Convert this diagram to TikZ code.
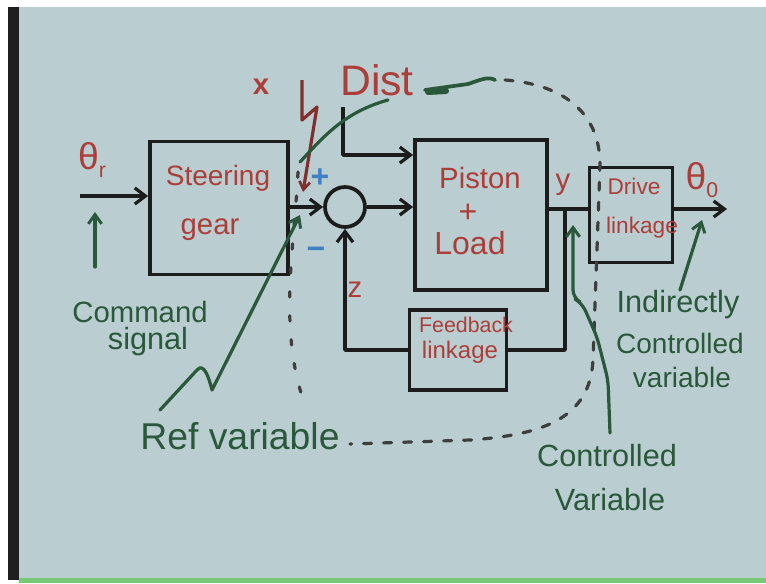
\documentclass[tikz,border=0pt]{standalone}
\usepackage{fontspec}
\setmainfont{Liberation Sans}
\usetikzlibrary{arrows.meta,calc}
\definecolor{bg}{RGB}{186,205,208}
\definecolor{ink}{RGB}{28,28,28}
\definecolor{redink}{RGB}{172,62,58}
\definecolor{greenink}{RGB}{42,88,58}
\definecolor{blueink}{RGB}{62,128,196}
\definecolor{stripgreen}{RGB}{120,200,120}
\newcommand{\fsz}[1]{\fontsize{#1}{#1}\selectfont}
\tikzset{
 blk/.style={draw=ink, line width=2.8pt, rectangle, inner sep=0pt},
 wire/.style={draw=ink, line width=2.6pt, line join=round},
 arr/.style={wire, -{Straight Barb[length=8pt,width=12pt,line width=2.4pt]}},
 rtxt/.style={text=redink, inner sep=0pt},
 gtxt/.style={text=greenink, inner sep=0pt, align=center},
 gline/.style={draw=greenink, line width=2.4pt, line cap=round, line join=round},
 garr/.style={gline, -{Straight Barb[length=7pt,width=10pt,line width=2.2pt]}},
 dashloop/.style={draw=ink!85, line width=2.4pt, dash pattern=on 6pt off 9pt, line cap=round},
 dotloop/.style={draw=ink!85, line width=2.4pt, dash pattern=on 4pt off 14pt, line cap=round},
}
\begin{document}
\begin{tikzpicture}[x=0.75pt,y=-0.75pt]
\useasboundingbox (0,0) rectangle (766,583);
\fill[white] (0,0) rectangle (766,583);
\fill[bg] (8,7) rectangle (766,578);
\fill[stripgreen] (19,578) rectangle (766,583);
\fill[black!88] (8,7) rectangle (19,580);

% blocks
\node[blk, minimum width=138*0.75pt, minimum height=133*0.75pt] (steer) at (219,208) {};
\node[blk, circle, minimum size=40*0.75pt] (sum) at (345,207) {};
\node[blk, minimum width=132*0.75pt, minimum height=150*0.75pt] (piston) at (481,215) {};
\node[blk, minimum width=83*0.75pt, minimum height=95*0.75pt] (drive) at (631,215) {};
\node[blk, minimum width=97*0.75pt, minimum height=80*0.75pt] (fb) at (458,350) {};

% block texts
\node[rtxt, font=\fsz{21}] (tsteer1) at (218,178) {Steering};
\node[rtxt, font=\fsz{22}] (tsteer2) at (210,230) {gear};
\node[rtxt, font=\fsz{22}] (tpist1) at (480,178) {Piston};
\node[rtxt, font=\fsz{24}] (tpist2) at (468,213) {+};
\node[rtxt, font=\fsz{24}] (tpist3) at (470,243) {Load};
\node[rtxt, font=\fsz{17}] (tdrive1) at (634,186) {Drive};
\node[rtxt, font=\fsz{17}] (tdrive2) at (642,228) {linkage};
\node[rtxt, font=\fsz{16}] (tfb1) at (466,325) {Feedback};
\node[rtxt, font=\fsz{18}] (tfb2) at (460,352) {linkage};

% signal labels
\node[rtxt, font=\fsz{28}] (thr) at (92,160) {θ\raisebox{-6pt}{\fsz{16}r}};
\node[rtxt, font=\fsz{28}] (tho) at (702,180) {θ\raisebox{-6pt}{\fsz{16}0}};
\node[rtxt, font=\fsz{22}\bfseries] (tx) at (261,87) {x};
\node[rtxt, font=\fsz{32}] (tdist) at (377,80) {Dist};
\node[rtxt, font=\fsz{22}] (ty) at (563,185) {y};
\node[rtxt, font=\fsz{22}] (tz) at (355,290) {z};
\node[text=blueink, inner sep=0pt, font=\fsz{24}\bfseries] (tplus) at (320,178) {+};
\node[text=blueink, inner sep=0pt, font=\fsz{24}\bfseries] (tminus) at (316,253) {−};

% connectors
\coordinate (in) at (80,196);
\draw[arr] (in) -- (steer.west |- in);
\draw[arr] (steer.east |- sum.west) -- (sum.west);
\draw[arr] (sum.east) -- (piston.west |- sum.east);
\coordinate (dtop) at (343,107);
\coordinate (dk) at (343,155);
\draw[arr] (dtop) -- (dk) -- (piston.west |- dk);
\coordinate (yj) at (565,209);
\draw[wire] (piston.east |- yj) -- (drive.west |- yj);
\coordinate (out) at (727,209);
\draw[arr] (drive.east |- out) -- (out);
\draw[wire] (yj) |- (fb.east);
\draw[arr] (fb.west) -| (sum.south);

% disturbance zigzag
\coordinate (zz) at (303,192);
\draw[draw=redink!75!black, line width=2.4pt, line join=round, -{Straight Barb[length=6pt,width=8pt,line width=2pt]}]
  (302,80) -- (302,120) -- (317,107) -- (zz);
\draw[gline] (300,162) .. controls (325,135) and (345,112) .. (388,100);
\draw[gline, line width=2.8pt] (425,90) -- (468,84) .. controls (480,80) and (488,76) .. (495,80);
\draw[gline, line width=4.5pt] (428,92) -- (446,91);

% dashed boundary
\draw[dashloop] (505,80) .. controls (560,84) and (600,110) .. (600,165) -- (593,360)
  .. controls (590,420) and (540,435) .. (470,440) -- (350,444);
\draw[dotloop] (298,172) .. controls (294,250) and (278,330) .. (305,405);

% green annotations
\draw[garr] (95,267) -- (95,212);
\node[gtxt, font=\fsz{22}] (tcmd) at (140,312) {Command};
\node[gtxt, font=\fsz{23}] (tsig) at (148,342) {signal};
\draw[garr] (160,410) -- (197,370) .. controls (204,362) and (209,378) .. (212,390) -- (300,215);
\node[gtxt, font=\fsz{28}] (tref) at (240,436) {Ref variable};
\draw[garr, rounded corners=6pt] (610,433) -- (608,380) -- (597,337) -- (582,303) -- (573,298) -- (573,225);
\node[gtxt, font=\fsz{23}] (tcv1) at (607,456) {Controlled};
\node[gtxt, font=\fsz{23}] (tcv2) at (610,500) {Variable};
\draw[garr] (680,290) -- (702,220);
\node[gtxt, font=\fsz{23}] (tic1) at (678,305) {Indirectly};
\node[gtxt, font=\fsz{21}] (tic2) at (680,343) {Controlled};
\node[gtxt, font=\fsz{21}] (tic3) at (682,377) {variable};
\end{tikzpicture}
\end{document}
